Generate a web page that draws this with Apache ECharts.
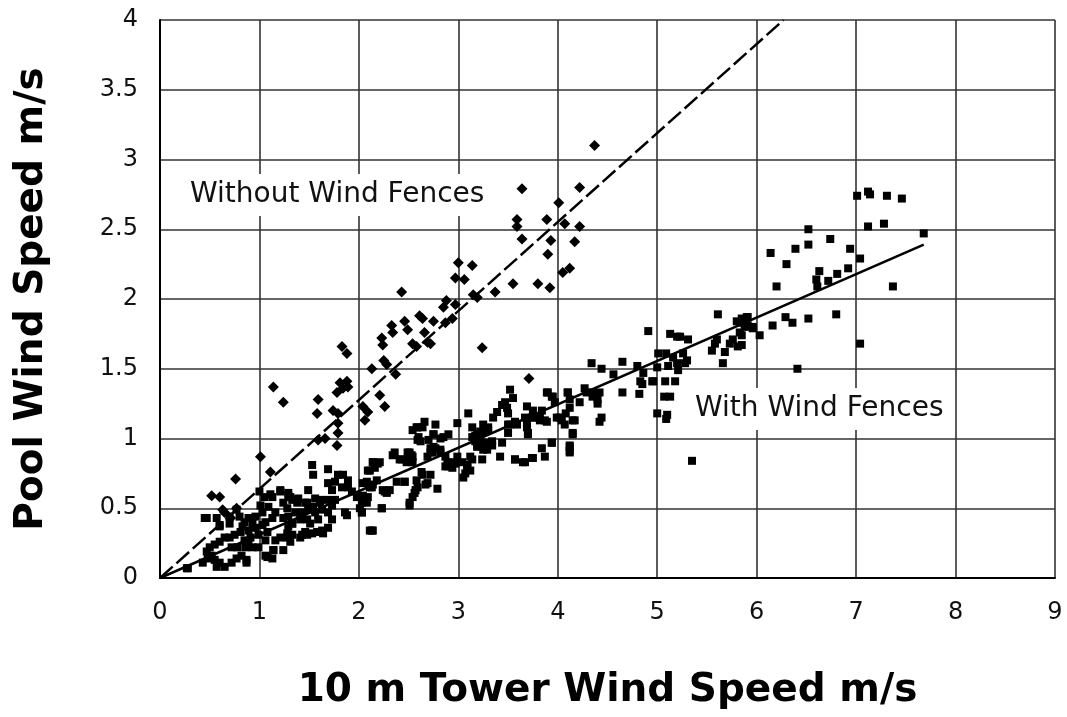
<!DOCTYPE html>
<html>
<head>
<meta charset="utf-8">
<script src="https://cdn.jsdelivr.net/npm/echarts@6/dist/echarts.min.js"></script>
<style>
  html, body { margin: 0; padding: 0; background: #fff; }
  #chart { width: 1067px; height: 717px; }
</style>
</head>
<body>
<div id="chart"></div>
<script>
// Tower wind speed (x) vs pool wind speed (y), m/s
const xTicks = [0, 1, 2, 3, 4, 5, 6, 7, 8, 9];
const yTicks = [0, 0.5, 1, 1.5, 2, 2.5, 3, 3.5, 4];

// Measurements taken without wind fences
const withoutFences = [
  [4.37,3.10],[3.64,2.79],[4.22,2.80],[4.01,2.69],[3.59,2.57],[3.59,2.52],[3.89,2.57],[4.07,2.54],
  [4.22,2.52],[3.64,2.43],[3.93,2.42],[4.17,2.41],[3.90,2.32],[4.05,2.19],[4.12,2.22],[3.55,2.11],
  [3.80,2.11],[3.92,2.08],[3.37,2.05],[3.00,2.26],[3.14,2.24],[2.97,2.15],[3.06,2.14],[2.43,2.05],
  [3.15,2.03],[3.19,2.01],[2.88,1.99],[2.85,1.94],[2.97,1.96],[2.94,1.86],[2.87,1.83],[2.61,1.88],
  [2.64,1.86],[2.75,1.84],[2.46,1.84],[2.49,1.78],[2.33,1.81],[2.34,1.76],[2.23,1.72],[2.24,1.67],
  [2.66,1.76],[2.69,1.69],[2.54,1.68],[2.58,1.66],[2.72,1.68],[3.24,1.65],[1.83,1.66],[1.88,1.61],
  [2.13,1.50],[2.25,1.56],[2.28,1.53],[2.37,1.46],[1.14,1.37],[1.24,1.26],[1.81,1.40],[1.88,1.41],
  [1.84,1.36],[1.78,1.33],[1.89,1.37],[1.59,1.28],[1.58,1.18],[1.74,1.20],[1.79,1.18],[1.79,1.11],
  [1.79,1.04],[1.78,0.95],[2.04,1.23],[2.09,1.19],[2.06,1.13],[2.21,1.31],[2.26,1.23],[1.66,1.00],
  [1.59,0.99],[1.01,0.87],[1.11,0.76],[0.76,0.71],[0.52,0.59],[0.60,0.58],[0.63,0.49],[0.77,0.50],
  [0.65,0.47],[0.71,0.43],[3.71,1.43]
];

// Measurements taken with wind fences
const withFences = [
  // 6 - 7.7 m/s
  [7.01,2.74],[7.12,2.77],[7.14,2.75],[7.31,2.74],[7.46,2.72],[7.12,2.52],[7.28,2.54],[7.68,2.47],
  [6.52,2.50],[6.74,2.43],[6.14,2.33],[6.39,2.36],[6.52,2.39],[6.94,2.36],[6.30,2.25],[7.04,2.29],
  [6.63,2.20],[6.81,2.18],[6.92,2.22],[6.60,2.14],[6.61,2.09],[6.72,2.13],[6.20,2.09],[7.37,2.09],
  [5.90,1.87],[5.85,1.83],[5.91,1.81],[5.96,1.79],[6.03,1.74],[5.85,1.74],[5.85,1.67],[6.16,1.81],
  [6.29,1.87],[6.36,1.83],[6.52,1.86],[6.80,1.89],[7.04,1.68],[6.41,1.50],
  // 4 - 6 m/s
  [5.61,1.89],[5.80,1.84],[5.85,1.86],[5.91,1.87],[5.96,1.80],[5.88,1.80],[5.83,1.76],[5.76,1.71],
  [5.73,1.68],[5.81,1.66],[5.60,1.71],[5.58,1.68],[5.55,1.63],[5.68,1.62],[5.66,1.54],[4.91,1.77],
  [5.13,1.75],[5.20,1.73],[5.23,1.73],[5.31,1.71],[5.01,1.61],[5.09,1.61],[5.16,1.58],[5.26,1.61],
  [5.28,1.54],[5.30,1.56],[5.20,1.54],[5.21,1.49],[5.11,1.52],[5.00,1.51],[5.08,1.41],[5.18,1.41],
  [4.96,1.41],[5.07,1.30],[5.13,1.30],[5.00,1.18],[5.10,1.17],[5.09,1.14],[5.35,0.84],[4.80,1.52],
  [4.86,1.47],[4.83,1.41],[4.85,1.39],[4.95,1.41],[4.65,1.55],[4.65,1.33],[4.82,1.32],[4.34,1.54],
  [4.44,1.50],[4.56,1.46],[4.27,1.36],[4.29,1.33],[4.35,1.33],[4.42,1.33],[4.35,1.30],[4.22,1.26],
  [4.40,1.28],[4.40,1.25],[4.10,1.33],[4.12,1.28],[4.08,1.18],[4.15,1.13],[4.04,1.13],[4.15,1.04],
  [4.44,1.15],[4.42,1.12],[4.12,0.95],[4.12,0.91],
  // 2 - 4 m/s
  [3.52,1.35],[3.55,1.29],[3.47,1.26],[3.44,1.24],[3.49,1.22],[3.39,1.19],[3.35,1.15],[3.10,1.18],
  [2.99,1.11],[2.66,1.12],[2.77,1.10],[2.58,1.08],[2.59,0.99],[2.75,1.03],[2.82,1.00],[2.90,1.03],
  [3.14,1.08],[3.17,1.02],[3.22,0.99],[3.29,1.06],[3.30,1.08],[3.24,1.04],[3.19,0.95],[3.27,0.97],
  [3.34,0.95],[3.25,0.92],[3.69,1.23],[3.75,1.20],[3.84,1.20],[3.87,1.13],[3.67,1.15],[3.75,1.15],
  [3.82,1.15],[3.69,1.08],[3.59,1.10],[3.50,1.10],[3.90,1.33],[3.95,1.30],[4.10,1.33],[4.12,1.22],
  [4.17,1.13],[4.02,1.15],[4.07,1.10],[4.15,1.03],[3.70,1.03],[3.94,0.97],[4.12,0.94],[4.12,0.90],
  [3.87,0.87],[3.84,0.93],[3.74,0.86],[3.65,0.83],[3.57,0.85],[3.42,0.87],[3.12,0.87],[3.09,0.80],
  [3.07,0.75],[3.05,0.72],[2.87,0.87],[2.92,0.83],[2.97,0.82],[2.90,0.80],[2.99,0.87],[2.72,0.93],
  [2.74,0.90],[2.77,0.93],[2.82,0.90],[2.69,0.87],[2.54,1.06],[2.59,1.08],[2.64,1.08],[2.34,0.88],
  [2.43,0.85],[2.48,0.83],[2.53,0.88],[2.51,0.87],[2.64,0.74],[2.69,0.68],[2.59,0.65],[2.56,0.61],
  [2.51,0.54],[2.38,0.69],[2.46,0.69],[2.79,0.64],[2.28,0.61],[2.23,0.50],[2.11,0.34],[2.14,0.34],
  [2.14,0.83],[2.19,0.82],[2.11,0.77],[2.08,0.69],[2.13,0.65],[2.04,0.58],[2.03,0.47],[2.24,0.63],
  [2.28,0.62],[3.89,1.33],[3.94,1.30],[3.97,1.26],[3.25,1.10],[3.30,1.06],[3.22,1.05],[3.19,1.03],
  [3.14,1.01],[3.17,0.98],[3.22,0.99],[3.19,0.94],[3.25,0.94],[3.29,0.92],[3.34,0.98],[3.50,1.18],
  [3.57,1.12],[3.52,1.10],[3.50,1.04],[3.44,0.97],[3.57,0.85],[3.67,0.83],[3.75,0.86],[3.94,0.97],
  [3.70,1.04],[3.69,1.11],[3.74,1.15],[3.82,1.13],[3.89,1.12],[3.99,1.15],[2.89,0.83],[2.87,0.80],
  [2.94,0.79],[3.04,0.83],[3.09,0.81],[3.12,0.77],[3.09,0.79],[3.14,0.85],[3.24,0.85],[2.75,0.94],
  [2.72,0.90],[2.82,0.92],[2.70,0.99],[2.75,1.03],[2.85,1.01],[2.62,0.98],[2.60,1.01],[2.51,0.90],
  [2.54,0.87],[2.48,0.85],[2.46,0.69],[2.58,0.70],[2.63,0.76],[2.72,0.74],[2.67,0.67],[2.57,0.63],
  [2.54,0.58],[2.51,0.52],
  // 0 - 2 m/s
  [1.21,0.63],[1.29,0.59],[1.24,0.54],[1.28,0.50],[1.13,0.58],[1.09,0.51],[1.16,0.47],[1.24,0.43],
  [1.33,0.39],[1.01,0.52],[1.03,0.47],[0.96,0.44],[0.89,0.43],[0.85,0.40],[0.93,0.39],[0.83,0.37],
  [0.81,0.33],[0.89,0.34],[0.96,0.36],[1.03,0.38],[1.06,0.40],[1.13,0.43],[1.08,0.33],[0.99,0.31],
  [0.91,0.29],[0.85,0.27],[1.06,0.27],[1.16,0.27],[1.21,0.29],[1.14,0.20],[1.06,0.16],[1.13,0.14],
  [0.89,0.25],[0.93,0.22],[0.99,0.22],[0.45,0.43],[0.57,0.43],[0.60,0.37],[0.77,0.49],[0.70,0.39],
  [0.50,0.22],[0.55,0.24],[0.60,0.26],[0.65,0.29],[0.70,0.29],[0.75,0.31],[0.47,0.19],[0.52,0.16],
  [0.55,0.13],[0.60,0.11],[0.65,0.08],[0.72,0.11],[0.77,0.14],[0.82,0.16],[0.87,0.11],[0.43,0.11],
  [0.48,0.14],[0.57,0.08],[0.28,0.07],[0.72,0.22],[0.78,0.22],[0.86,0.22],[1.53,0.81],[1.54,0.74],
  [1.69,0.78],[1.79,0.74],[1.84,0.74],[1.89,0.70],[1.76,0.69],[1.69,0.68],[1.73,0.63],[1.83,0.65],
  [1.89,0.65],[1.93,0.62],[1.98,0.58],[2.04,0.59],[2.03,0.54],[2.08,0.54],[2.01,0.50],[2.09,0.58],
  [2.11,0.65],[2.04,0.68],[2.14,0.67],[2.18,0.70],[2.14,0.83],[2.21,0.83],[2.16,0.79],[2.36,0.90],
  [2.41,0.85],[2.49,0.90],[2.54,0.83],[2.26,0.62],[2.31,0.63],[2.23,0.50],[1.86,0.47],[2.03,0.47],
  [2.13,0.34],[1.29,0.61],[1.33,0.56],[1.39,0.57],[1.46,0.54],[1.49,0.63],[1.56,0.57],[1.61,0.54],
  [1.68,0.56],[1.73,0.52],[1.76,0.56],[1.63,0.49],[1.56,0.47],[1.49,0.49],[1.43,0.47],[1.36,0.47],
  [1.29,0.44],[1.33,0.39],[1.41,0.42],[1.48,0.42],[1.51,0.39],[1.59,0.42],[1.69,0.47],[1.73,0.42],
  [1.28,0.32],[1.33,0.31],[1.43,0.31],[1.46,0.33],[1.53,0.32],[1.59,0.33],[1.63,0.34],[1.69,0.36],
  [1.29,0.37],[1.11,0.60],[1.21,0.62],[1.31,0.58],[1.38,0.54],[1.48,0.54],[1.54,0.51],[1.61,0.56],
  [0.47,0.43],[0.60,0.38],[0.70,0.44],[0.80,0.44],[0.27,0.07],[0.87,0.13],[1.08,0.15],[1.14,0.20],
  [1.41,0.29],[1.48,0.31],[1.58,0.33],[1.64,0.32],[1.28,0.29],[1.31,0.26],[1.24,0.20],[1.88,0.45],
  [2.09,0.77],[1.00,0.62],[1.05,0.58]
];

// Fitted lines through the origin
const fitWithout = [[0, 0], [6.27, 4.0]];
const fitWith = [[0, 0], [7.68, 2.39]];

const labelWithout = 'Without Wind Fences';
const labelWith = 'With Wind Fences';

const chart = echarts.init(document.getElementById('chart'), null, { renderer: 'canvas' });
const FONT = 'DejaVu Sans, Verdana, sans-serif';

chart.setOption({
  animation: false,
  backgroundColor: '#fff',
  grid: { left: 160, right: 12, top: 20, bottom: 139, containLabel: false },
  xAxis: {
    type: 'value', min: xTicks[0], max: xTicks[xTicks.length - 1], interval: 1,
    name: '10 m Tower Wind Speed m/s', nameLocation: 'middle', nameGap: 93,
    nameTextStyle: { fontFamily: FONT, fontWeight: 'bold', fontSize: 39, color: '#000' },
    axisLine: { show: true, lineStyle: { color: '#000', width: 2 } },
    axisTick: { show: false },
    axisLabel: { margin: 23, fontFamily: FONT, fontSize: 24, color: '#111' },
    splitLine: { show: true, lineStyle: { color: '#333', width: 1.6 } }
  },
  yAxis: {
    type: 'value', min: yTicks[0], max: yTicks[yTicks.length - 1], interval: 0.5,
    name: 'Pool Wind Speed m/s', nameLocation: 'middle', nameGap: 109,
    nameTextStyle: { fontFamily: FONT, fontWeight: 'bold', fontSize: 39, color: '#000' },
    axisLine: { show: true, lineStyle: { color: '#000', width: 2 } },
    axisTick: { show: false },
    axisLabel: { margin: 22, fontFamily: FONT, fontSize: 24, color: '#111' },
    splitLine: { show: true, lineStyle: { color: '#333', width: 1.6 } }
  },
  graphic: [
    {
      type: 'text', left: 185, top: 174, z: 50,
      style: { text: labelWithout, font: '28px ' + FONT, fill: '#111',
               backgroundColor: '#fff', padding: [7, 5, 7, 5] }
    },
    {
      type: 'text', left: 690, top: 388, z: 50,
      style: { text: labelWith, font: '28px ' + FONT, fill: '#111',
               backgroundColor: '#fff', padding: [7, 5, 7, 5] }
    }
  ],
  series: [
    {
      type: 'line', data: fitWithout, showSymbol: false, silent: true, z: 3,
      lineStyle: { color: '#000', width: 2.5, type: [17, 5] }
    },
    {
      type: 'line', data: fitWith, showSymbol: false, silent: true, z: 3,
      lineStyle: { color: '#000', width: 2.5 }
    },
    {
      type: 'scatter', data: withoutFences, symbol: 'diamond', symbolSize: 11, z: 4,
      itemStyle: { color: '#000', opacity: 1 }
    },
    {
      type: 'scatter', data: withFences, symbol: 'rect', symbolSize: 8, z: 4,
      itemStyle: { color: '#000', opacity: 1 }
    }
  ]
});
</script>
</body>
</html>
